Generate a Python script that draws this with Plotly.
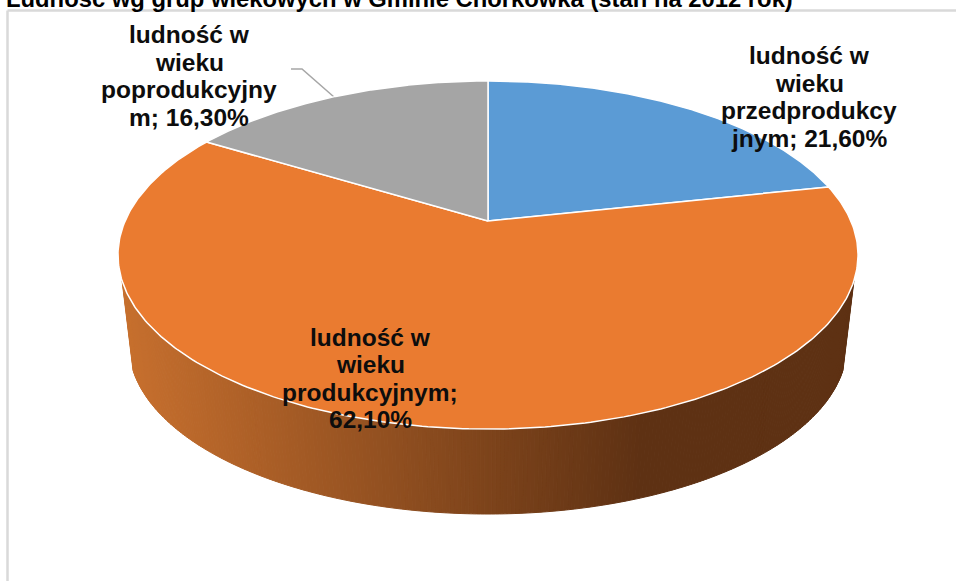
import numpy as np
import plotly.graph_objects as go

title = "Ludność wg grup wiekowych w Gminie Chorkówka (stan na 2012 rok)"
values = [21.6, 62.1, 16.3]
colors = ["#5B9BD5", "#EA7B30", "#A5A5A5"]
label_lines = [
    ["ludność w", "wieku", "przedprodukcy", "jnym; {v}"],
    ["ludność w", "wieku", "produkcyjnym;", "{v}"],
    ["ludność w", "wieku", "poprodukcyjny", "m; {v}"],
]
label_centres = [(809, 55.5), (370, 337), (189, 34.5)]

W, H = 956, 581
CX, CY = 488.0, 221.0
A, B, K = 362.9, 167.4, 0.1954
SCALE, DROP = 0.97, 91.2
SIDE_START_Y = 280
GRAD_L, GRAD_R = (200, 112, 46), (94, 49, 19)
GRAD_X0, GRAD_X1 = 120, 640


def rim(theta):
    u, v = np.sin(theta), np.cos(theta)
    d = 1 + K * v
    return CX + A * u / d, CY - B * v / d


fig = go.Figure()

# side wall
th = np.linspace(np.pi / 2, 3 * np.pi / 2, 361)
xt, yt = rim(th)
keep = yt >= SIDE_START_Y
th = th[keep]
xt, yt = xt[keep], yt[keep]
xb = CX + SCALE * (xt - CX)
yb = CY + DROP + SCALE * (yt - CY)
for i in range(len(th) - 1):
    mid = (xt[i] + xt[i + 1] + xb[i] + xb[i + 1]) / 4
    f = np.clip((mid - GRAD_X0) / (GRAD_X1 - GRAD_X0), 0, 1)
    c = [round(GRAD_L[j] + f * (GRAD_R[j] - GRAD_L[j])) for j in range(3)]
    col = f"rgb({c[0]},{c[1]},{c[2]})"
    fig.add_trace(go.Scatter(
        x=[xt[i], xt[i + 1], xb[i + 1], xb[i], xt[i]],
        y=[yt[i], yt[i + 1], yb[i + 1], yb[i], yt[i]],
        mode="lines", fill="toself", fillcolor=col,
        line=dict(color=col, width=1), hoverinfo="skip", showlegend=False))

# top slices
start = 0.0
total = sum(values)
for val, col in zip(values, colors):
    end = start + val / total * 2 * np.pi
    t = np.linspace(start, end, 300)
    x, y = rim(t)
    fig.add_trace(go.Scatter(
        x=np.r_[CX, x, CX], y=np.r_[CY, y, CY],
        mode="lines", fill="toself", fillcolor=col,
        line=dict(color="white", width=1.5), hoverinfo="skip", showlegend=False))
    start = end

# labels
LINE_GAP = 27.6
for val, lines, (lx, ly) in zip(values, label_lines, label_centres):
    vtxt = f"{val:.2f}".replace(".", ",") + "%"
    for n, line in enumerate(lines):
        fig.add_annotation(x=lx, y=ly + n * LINE_GAP, text=line.format(v=vtxt),
                           showarrow=False, xanchor="center", yanchor="middle",
                           font=dict(family="Liberation Sans", size=24.5, color="#0D0D0D", weight="bold"))

fig.add_annotation(xref="paper", yref="paper", x=4 / W, y=1 + 2 / H, text=title,
                   showarrow=False, xanchor="left", yanchor="middle",
                   font=dict(family="Liberation Sans", size=23.8, color="black", weight="bold"))

fig.update_layout(
    width=W, height=H, margin=dict(l=0, r=0, t=0, b=0),
    paper_bgcolor="white", plot_bgcolor="white", showlegend=False,
    xaxis=dict(range=[0, W], visible=False, fixedrange=True),
    yaxis=dict(range=[H, 0], visible=False, fixedrange=True),
    shapes=[
        dict(type="line", x0=7.5, x1=7.5, y0=10.5, y1=H, line=dict(color="#D9D9D9", width=2.5), layer="below"),
        dict(type="line", x0=7.5, x1=W, y0=10.5, y1=10.5, line=dict(color="#D9D9D9", width=2.5), layer="below"),
        dict(type="path", path="M291,69 L302,69 L334,97", line=dict(color="#A6A6A6", width=1.5), layer="below"),
    ],
)
fig.write_html("out.html", config=dict(displayModeBar=False),
               post_script="document.documentElement.style.overflow='hidden';document.body.style.margin='0';")
